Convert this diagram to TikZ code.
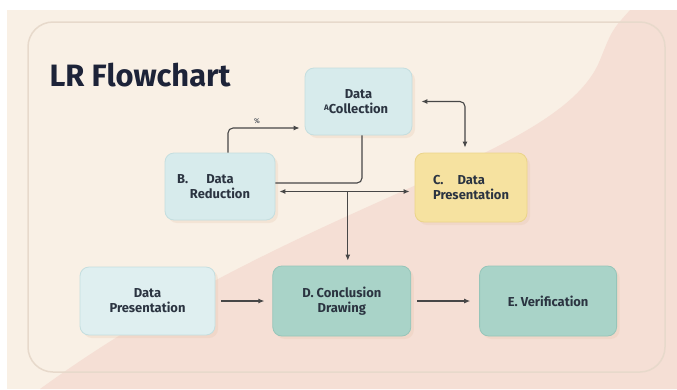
\documentclass[tikz,border=0pt]{standalone}
\usepackage{fontspec}
\setmainfont{Fira Sans}
\usetikzlibrary{arrows.meta, positioning, shadows, calc}
\usepackage{xcolor}

\definecolor{creambg}{HTML}{F9F0E5}
\definecolor{pinkbg}{HTML}{F5DFD5}
\definecolor{framecol}{HTML}{E7D9CB}
\definecolor{bluebox}{HTML}{D7EBEC}
\definecolor{blueline}{HTML}{C4DEDF}
\definecolor{yellowbox}{HTML}{F6E2A0}
\definecolor{yellowline}{HTML}{EBD48A}
\definecolor{tealbox}{HTML}{A9D3C8}
\definecolor{tealline}{HTML}{96C5B9}
\definecolor{inkcol}{HTML}{2B3441}
\definecolor{titlecol}{HTML}{1D2338}
\definecolor{linkcol}{HTML}{474747}

\begin{document}
\begin{tikzpicture}[
        x=1bp, y=-1bp,
        stepbox/.style={
            rectangle,
            draw=blueline,
            fill=bluebox,
            line width=0.8bp,
            rounded corners=9bp,
            align=center,
            text=inkcol,
            font=\bfseries\fontsize{13}{15}\selectfont,
            inner sep=2bp,
            drop shadow={opacity=0.25, shadow xshift=3bp, shadow yshift=-3bp, fill=pinkbg!70!brown}
        },
        arrow/.style={-{Latex[length=6bp, width=5bp]}, linkcol, line width=1.1bp, rounded corners=5bp,
            shorten >=5bp},
        darrow/.style={arrow, {Latex[length=6bp, width=5bp]}-{Latex[length=6bp, width=5bp]}}
    ]

    % --- BACKGROUND ---
    \useasboundingbox (0,0) rectangle (677,389);
    \fill[white] (0,0) rectangle (677,389);
    \fill[creambg] (7,10) rectangle (677,389);
    \fill[pinkbg] (40,389) .. controls (300,200) and (560,160) .. (600,60)
        .. controls (612,30) .. (630,10) -- (677,10) -- (677,389) -- cycle;
    \draw[framecol, line width=1.5bp, rounded corners=25bp] (28,22) rectangle (665,372);

    % --- TITLE ---
    \node (title) [font=\bfseries\fontsize{31}{34}\selectfont, text=titlecol, anchor=west]
        at (46,75) {LR Flowchart};

    % --- NODES ---
    \node (coll) [stepbox, minimum width=107bp, minimum height=67bp] at (358.5,101.5)
        {Data\\\llap{\raisebox{3bp}{\fontsize{8}{9}\selectfont A}}Collection};

    \node (redu) [stepbox, minimum width=110bp, minimum height=67bp] at (220,186.5)
        {\llap{B.\hspace{18bp}}Data\\Reduction};

    \node (pres) [stepbox, fill=yellowbox, draw=yellowline, minimum width=112bp, minimum height=69bp,
        align=left] at (471,187.5)
        {C.\hspace{14bp}Data\\Presentation};

    \node (prev) [stepbox, fill=bluebox!80!white, minimum width=135bp, minimum height=68bp] at (147.5,301)
        {Data\\Presentation};

    \node (concl) [stepbox, fill=tealbox, draw=tealline, minimum width=138bp, minimum height=70bp,
        right=57bp of prev] {D. Conclusion\\Drawing};

    \node (verif) [stepbox, fill=tealbox, draw=tealline, minimum width=137bp, minimum height=70bp,
        right=68bp of concl] {E. Verification};

    % --- ARROWS ---
    \draw [arrow] ([xshift=8bp]redu.north) |- ([yshift=-26.5bp]coll.west)
        node [pos=0.69, above, font=\fontsize{7}{8}\selectfont, text=inkcol] {\%};
    \draw [linkcol, line width=1.1bp, rounded corners=5bp] ([xshift=3.5bp]coll.south)
        |- ([yshift=3.5bp]redu.east);
    \draw [darrow, shorten <=4bp] ([yshift=-5bp]redu.east)
        -- ([yshift=-5bp]redu.east -| pres.west);
    \coordinate (split) at ([xshift=6bp]concl.north |- redu.east);
    \draw [arrow] ([yshift=-5bp]split) -- ([xshift=6bp]concl.north);
    \draw [darrow, shorten <=9bp] (coll.east)
        -| ([xshift=-6bp]pres.north);
    \draw [arrow, shorten <=6bp, shorten >=8bp] (prev) -- (concl);
    \draw [arrow, shorten <=6bp, shorten >=9bp] (concl) -- (verif);

\end{tikzpicture}
\end{document}
